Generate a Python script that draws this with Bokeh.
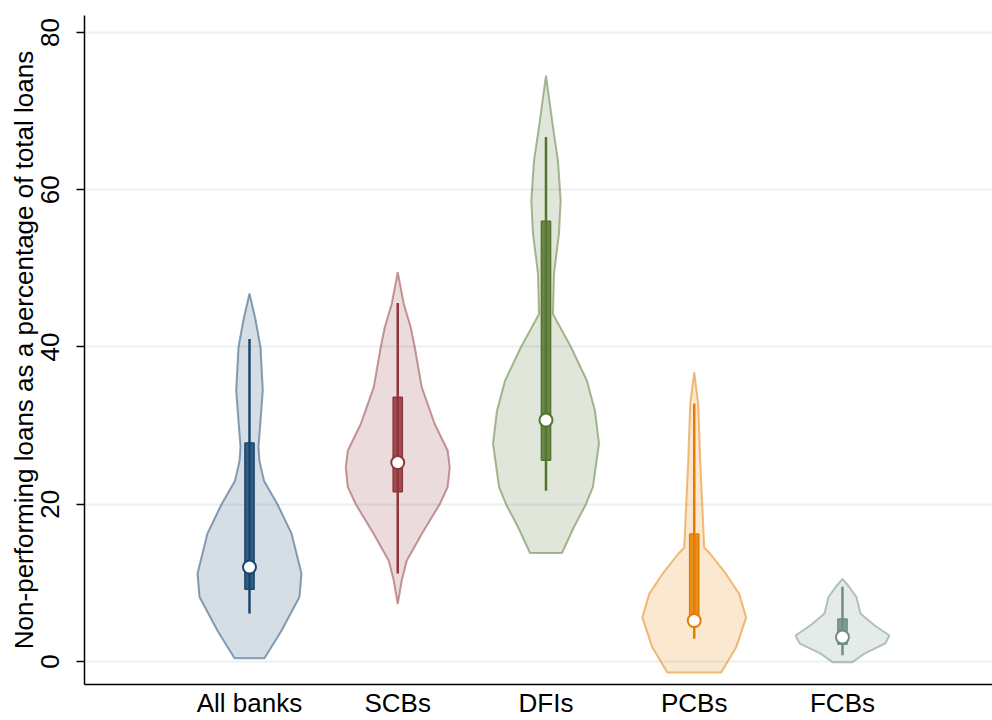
from bokeh.plotting import figure
from bokeh.models import Range1d, FixedTicker
from bokeh.embed import file_html
from bokeh.resources import INLINE

categories = ["All banks", "SCBs", "DFIs", "PCBs", "FCBs"]
positions = [1, 2, 3, 4, 5]
line_colors = ["#1a476f", "#90353b", "#55752f", "#e37e00", "#6e8e84"]

# violin density profiles: y values and relative half-widths
allbanks_y = [0.4, 3.9, 8.2, 11.2, 16.3, 20.0, 23.0, 25.5, 27.3, 30.5, 34.5, 40.0, 43.5, 46.8]
allbanks_w = [15, 32, 50, 52, 42, 28, 14.5, 10, 9, 11, 13.3, 11, 6, 0]
scbs_y = [7.3, 10.3, 12.8, 16.2, 20.0, 22.2, 24.7, 26.8, 30.2, 34.9, 40.0, 42.5, 45.5, 49.5]
scbs_w = [0, 4, 9, 24, 42, 50, 52, 50, 37, 24, 17, 13, 6, 0]
dfis_y = [13.8, 17.1, 20.0, 22.2, 27.7, 31.9, 35.7, 40.0, 44.2, 49.3, 54.4, 58.6, 63.7, 68.0, 74.5]
dfis_w = [16, 28, 40, 47, 53, 49, 41, 25, 7, 8, 13, 14.7, 12, 7, 0]
pcbs_y = [-1.4, 1.8, 5.6, 8.6, 11.1, 13.7, 14.5, 20.1, 25.6, 32.8, 36.8]
pcbs_w = [27, 42, 52, 45, 32, 16, 10, 8, 6, 4, 0]
fcbs_y = [-0.1, 1.0, 2.3, 3.3, 4.6, 6.1, 8.2, 9.5, 10.5]
fcbs_w = [10, 22, 43, 47, 32, 18, 14, 6.7, 0]

# box-plot statistics
whisker_low = [6.1, 11.2, 21.7, 2.9, 0.8]
q1 = [9.2, 21.6, 25.6, 5.0, 2.2]
median = [12.0, 25.3, 30.7, 5.2, 3.1]
q3 = [27.8, 33.6, 56.0, 16.2, 5.4]
whisker_high = [41.0, 45.6, 66.7, 32.8, 9.5]

y_ticks = [0, 20, 40, 60, 80]

profiles = [(allbanks_y, allbanks_w), (scbs_y, scbs_w), (dfis_y, dfis_w),
            (pcbs_y, pcbs_w), (fcbs_y, fcbs_w)]

FONT = "Liberation Sans"
PX_PER_UNIT = 148.25

p = figure(width=992, height=720, output_backend="svg", toolbar_location=None,
           x_range=Range1d(-0.113, 6.012), y_range=Range1d(-2.93, 82.16),
           min_border_left=84, min_border_right=0, min_border_top=15, min_border_bottom=32)
p.outline_line_color = None
p.background_fill_color = "white"
p.border_fill_color = "white"

for pos, (ys, ws), col in zip(positions, profiles, line_colors):
    hw = [w / PX_PER_UNIT for w in ws]
    xs = [pos + h for h in hw] + [pos - h for h in reversed(hw)]
    yy = list(ys) + list(reversed(ys))
    p.patch(xs, yy, fill_color=col, fill_alpha=0.18, line_color=col, line_alpha=0.5, line_width=2)

p.segment(x0=positions, y0=whisker_low, x1=positions, y1=whisker_high,
          line_color=line_colors, line_width=2.5)
p.vbar(x=positions, bottom=q1, top=q3, width=0.062,
       fill_color=line_colors, fill_alpha=0.85, line_color=line_colors, line_width=1.5)
p.scatter(x=positions, y=median, size=13, marker="circle", fill_color="white",
          line_color=line_colors, line_width=2)

# axes
p.xgrid.visible = False
p.ygrid.ticker = FixedTicker(ticks=y_ticks)
p.ygrid.grid_line_color = "#eaf1f3"
p.ygrid.grid_line_width = 2

p.xaxis.ticker = FixedTicker(ticks=positions)
p.xaxis.major_label_overrides = {pos: c for pos, c in zip(positions, categories)}
p.xaxis.major_tick_line_color = None
p.xaxis.minor_tick_line_color = None
p.xaxis.major_tick_out = 0
p.xaxis.major_tick_in = 0
p.xaxis.major_label_standoff = 3
p.xaxis.axis_line_color = "black"
p.xaxis.axis_line_width = 1.5
p.xaxis.major_label_text_font = FONT
p.xaxis.major_label_text_font_size = "26px"
p.xaxis.major_label_text_color = "black"

p.yaxis.ticker = FixedTicker(ticks=y_ticks)
p.yaxis.axis_label = "Non-performing loans as a percentage of total loans"
p.yaxis.axis_label_text_font = FONT
p.yaxis.axis_label_text_font_size = "26px"
p.yaxis.axis_label_text_font_style = "normal"
p.yaxis.axis_label_text_color = "black"
p.yaxis.axis_label_standoff = 0
p.yaxis.major_label_orientation = "vertical"
p.yaxis.major_label_text_font = FONT
p.yaxis.major_label_text_font_size = "26px"
p.yaxis.major_label_text_color = "black"
p.yaxis.major_label_standoff = 17
p.yaxis.major_tick_out = 8
p.yaxis.major_tick_in = 0
p.yaxis.major_tick_line_width = 1.5
p.yaxis.minor_tick_line_color = None
p.yaxis.axis_line_color = "black"
p.yaxis.axis_line_width = 1.5

open("out.html", "w").write(file_html(p, INLINE))
